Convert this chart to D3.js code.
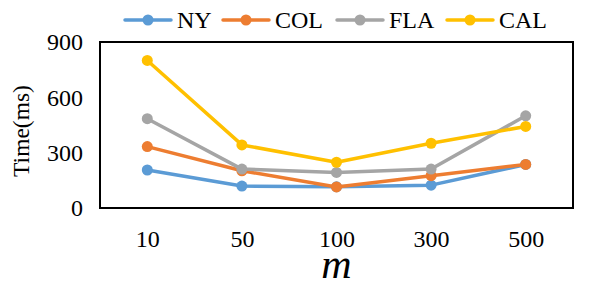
<!DOCTYPE html>
<html><head><meta charset="utf-8">
<script src="https://cdn.jsdelivr.net/npm/d3@7"></script>
<style>html,body{margin:0;padding:0;background:#fff;}svg{display:block;}</style>
</head><body>
<script>
const categories = ["10","50","100","300","500"];
const seriesNames = ["NY","COL","FLA","CAL"];
const NY  = [206,119,115,124,236];
const COL = [333,202,114,175,236];
const FLA = [484,211,193,211,500];
const CAL = [800,342,248,351,442];
const yTicks = [0,300,600,900];
const colors = ["#5B9BD5","#ED7D31","#A5A5A5","#FFC000"];
const series = [NY,COL,FLA,CAL];

const W=591,H=296;
const m={left:100,right:18,top:42,bottom:88};
const svg=d3.select("body").append("svg").attr("width",W).attr("height",H);
const font="'Liberation Serif','Times New Roman',serif";
const x=d3.scalePoint().domain(categories).range([m.left,W-m.right]).padding(0.5);
const y=d3.scaleLinear().domain([0,900]).range([H-m.bottom,m.top]);

const g=svg.append("g");
g.append("g").attr("transform",`translate(${m.left},0)`)
 .call(d3.axisLeft(y).tickValues(yTicks).tickSize(0).tickPadding(17))
 .call(a=>a.select(".domain").remove())
 .selectAll("text").attr("font-family",font).attr("font-size",24).attr("fill","#000");
g.append("g").attr("transform",`translate(0,${H-m.bottom})`)
 .call(d3.axisBottom(x).tickSize(0).tickPadding(22))
 .call(a=>a.select(".domain").remove())
 .selectAll("text").attr("font-family",font).attr("font-size",24).attr("fill","#000");

svg.append("rect").attr("x",m.left).attr("y",m.top)
 .attr("width",W-m.right-m.left).attr("height",H-m.bottom-m.top)
 .attr("fill","none").attr("stroke","#000").attr("stroke-width",2);

const line=d3.line().x((d,i)=>x(categories[i])).y(d=>y(d));
series.forEach((s,k)=>{
  svg.append("path").datum(s).attr("d",line).attr("fill","none")
    .attr("stroke",colors[k]).attr("stroke-width",3.5).attr("stroke-linejoin","round");
  svg.selectAll(null).data(s).enter().append("circle")
    .attr("cx",(d,i)=>x(categories[i])).attr("cy",d=>y(d)).attr("r",5.5).attr("fill",colors[k]);
});

const legX=[125,223,337,447];
seriesNames.forEach((n,k)=>{
  const lg=svg.append("g").attr("transform",`translate(${legX[k]},20)`);
  lg.append("line").attr("x1",0).attr("x2",46).attr("y1",0).attr("y2",0)
    .attr("stroke",colors[k]).attr("stroke-width",3.5).attr("stroke-linecap","round");
  lg.append("circle").attr("cx",23).attr("cy",0).attr("r",5.5).attr("fill",colors[k]);
  lg.append("text").attr("x",52).attr("y",7.7).attr("font-family",font).attr("font-size",24).text(n);
});

svg.append("text").attr("transform",`translate(29,131) rotate(-90)`)
 .attr("text-anchor","middle").attr("font-family",font).attr("font-size",23.5).text("Time(ms)");
svg.append("text").attr("x",x("100")).attr("y",278).attr("text-anchor","middle")
 .attr("font-family",font).attr("font-style","italic").attr("font-size",42).text("m");
</script>
</body></html>
